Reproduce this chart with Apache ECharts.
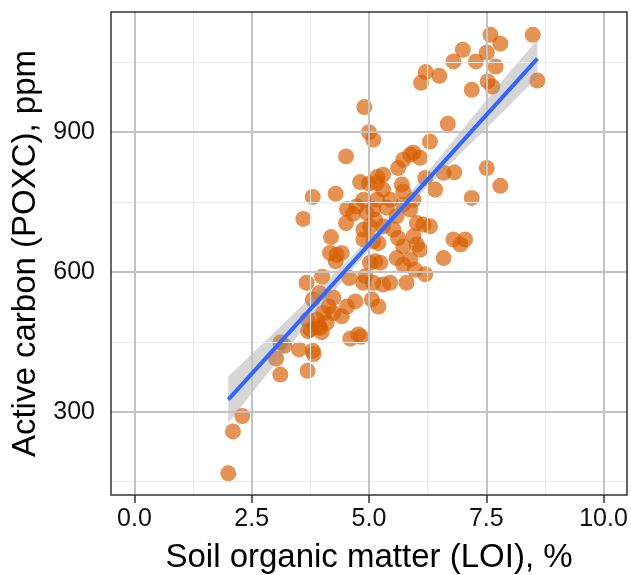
<!DOCTYPE html>
<html><head><meta charset="utf-8">
<script src="https://cdn.jsdelivr.net/npm/echarts@6/dist/echarts.min.js"></script>
<style>html,body{margin:0;padding:0;background:#fff}#c{width:631px;height:575px}</style>
</head><body><div id="c"></div>
<script>
// Soil organic matter (LOI, %) for each sample
const somX = [
  2.00, 2.10, 2.30, 3.11, 3.02, 3.11, 3.20, 3.51, 3.80, 3.82,
  3.69, 3.70, 3.69, 3.80, 3.67, 4.00, 3.99, 3.93, 4.10, 4.24,
  4.14, 4.42, 4.53, 4.71, 4.60, 4.83, 4.58, 4.17, 4.31, 4.88,
  3.89, 4.03, 3.75, 3.96, 4.77, 5.06, 5.20, 3.94, 4.24, 4.90,
  5.00, 5.09, 4.51, 4.81, 5.00, 5.18, 3.80, 4.29, 3.60, 4.53,
  4.66, 4.74, 4.51, 4.88, 4.95, 5.09, 4.88, 5.02, 4.19, 4.42,
  4.29, 4.88, 5.09, 5.02, 4.92, 5.09, 6.68, 6.30, 5.88, 6.09,
  5.62, 5.30, 5.70, 5.17, 6.20, 6.59, 6.82, 6.41, 7.19, 5.30,
  5.45, 5.73, 5.95, 5.17, 5.38, 5.73, 5.88, 5.59, 5.13, 5.30,
  6.02, 6.16, 6.30, 5.52, 5.20, 5.62, 5.73, 5.95, 6.02, 6.09,
  6.80, 6.95, 7.05, 6.59, 5.13, 5.24, 5.59, 5.73, 5.88, 5.98,
  6.20, 5.80, 5.45, 5.30, 8.49, 8.59, 7.59, 7.80, 7.00, 6.80,
  7.28, 7.51, 7.70, 6.21, 6.50, 6.11, 7.19, 7.53, 7.63, 7.51,
  7.80, 5.73, 5.95
];
// Active carbon (POXC, ppm) for each sample
const poxcY = [
  168, 258, 291, 380, 414, 449, 442, 434, 431, 424,
  388, 473, 498, 541, 577, 590, 471, 484, 491, 512,
  526, 505, 526, 537, 457, 461, 587, 641, 637, 577,
  498, 512, 477, 480, 466, 541, 526, 555, 545, 954,
  900, 884, 848, 793, 790, 804, 761, 768, 714, 735,
  725, 741, 705, 755, 727, 734, 691, 698, 675, 641,
  623, 670, 666, 620, 591, 577, 918, 880, 852, 845,
  823, 809, 788, 791, 802, 813, 814, 777, 759, 777,
  755, 773, 755, 755, 738, 745, 734, 720, 712, 698,
  705, 702, 698, 691, 662, 673, 655, 677, 659, 648,
  670, 659, 670, 630, 623, 620, 630, 616, 627, 605,
  595, 577, 577, 573, 1109, 1011, 1109, 1090, 1077, 1052,
  1052, 1071, 1041, 1029, 1021, 1006, 991, 1009, 998, 823,
  785, 841, 856
];
// Fitted linear trend
const fitX = [2.00, 8.59];
const fitY = [326, 1058];
// 95% confidence band
const bandX     = [2.0, 2.5, 3.0, 3.5, 4.0, 4.5, 5.0, 5.5, 6.0, 6.5, 7.0, 7.5, 8.0, 8.59];
const bandLower = [276, 340, 402, 465, 527, 588, 647, 704, 757, 809, 859, 908, 958, 1018];
const bandUpper = [376, 424, 472, 521, 571, 620, 673, 728, 785, 845, 907, 968, 1030, 1098];
// Axis ticks
const xMajorTicks = [0, 2.5, 5, 7.5, 10];
const xMinorTicks = [1.25, 3.75, 6.25, 8.75];
const yMajorTicks = [300, 600, 900];
const yMinorTicks = [150, 450, 750, 1050];
const xRange = [-0.5, 10.5];
const yRange = [121.5, 1158];

const xTitle = 'Soil organic matter (LOI), %';
const yTitle = 'Active carbon (POXC), ppm';

const FONT = '"Liberation Sans", Arial, Helvetica, sans-serif';
const chart = echarts.init(document.getElementById('c'), null, {renderer: 'canvas'});

const gridLines = [];
xMinorTicks.forEach(v => gridLines.push({xAxis: v, lineStyle: {color: '#ebebeb', width: 1, type: 'solid'}}));
yMinorTicks.forEach(v => gridLines.push({yAxis: v, lineStyle: {color: '#ebebeb', width: 1, type: 'solid'}}));
xMajorTicks.forEach(v => gridLines.push({xAxis: v, lineStyle: {color: '#c2c2c2', width: 2, type: 'solid'}}));
yMajorTicks.forEach(v => gridLines.push({yAxis: v, lineStyle: {color: '#c2c2c2', width: 2, type: 'solid'}}));

chart.setOption({
  animation: false,
  backgroundColor: '#ffffff',
  grid: {left: 111, top: 12, right: 4, bottom: 80, containLabel: false, outerBoundsMode: 'none',
         show: true, borderColor: '#333333', borderWidth: 1.5, backgroundColor: 'transparent', z: 10},
  xAxis: {
    type: 'value', min: xRange[0], max: xRange[1],
    name: xTitle, nameLocation: 'middle', nameGap: 46,
    nameTextStyle: {fontFamily: FONT, fontSize: 33, color: '#000'},
    axisLine: {show: false},
    axisTick: {show: true, length: 8, customValues: xMajorTicks, lineStyle: {color: '#333', width: 1.5}},
    axisLabel: {customValues: xMajorTicks, margin: 12, fontFamily: FONT, fontSize: 25, color: '#111',
      formatter: v => Number(v).toFixed(1)},
    splitLine: {show: false}
  },
  yAxis: {
    type: 'value', min: yRange[0], max: yRange[1],
    name: yTitle, nameLocation: 'middle', nameGap: 66, nameRotate: 90,
    nameTextStyle: {fontFamily: FONT, fontSize: 33, color: '#000'},
    axisLine: {show: false},
    axisTick: {show: true, length: 8, customValues: yMajorTicks, lineStyle: {color: '#333', width: 1.5}},
    axisLabel: {customValues: yMajorTicks, margin: 16, fontFamily: FONT, fontSize: 25, color: '#111'},
    splitLine: {show: false}
  },
  series: [
    {type: 'scatter', data: [], z: 0, silent: true,
     markLine: {silent: true, symbol: 'none', label: {show: false}, animation: false, data: gridLines}},
    {type: 'scatter', z: 3, symbolSize: 16, symbol: 'circle',
     itemStyle: {color: 'rgba(214,94,0,0.84)', borderWidth: 0},
     data: somX.map((x, i) => [x, poxcY[i]])},
    {type: 'custom', z: 4, silent: true, data: [[bandX[0], bandLower[0]]],
     renderItem: function (params, api) {
       const pts = [];
       for (let i = 0; i < bandX.length; i++) pts.push(api.coord([bandX[i], bandUpper[i]]));
       for (let i = bandX.length - 1; i >= 0; i--) pts.push(api.coord([bandX[i], bandLower[i]]));
       return {type: 'polygon', shape: {points: pts}, style: {fill: 'rgba(153,153,153,0.4)'}};
     }},
    {type: 'line', z: 5, showSymbol: false, symbol: 'none',
     lineStyle: {color: '#3366FF', width: 4},
     data: fitX.map((x, i) => [x, fitY[i]])}
  ]
});
</script></body></html>
